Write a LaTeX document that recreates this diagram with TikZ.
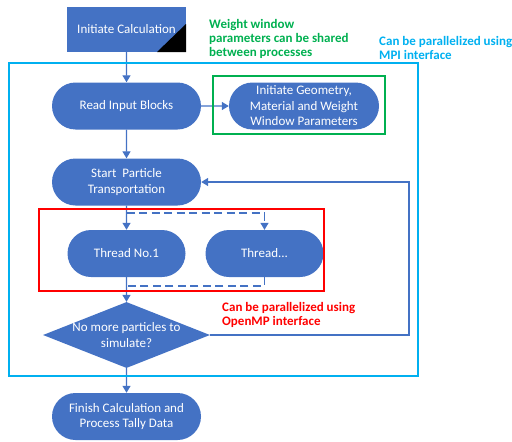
\documentclass[tikz,border=0pt]{standalone}
\usepackage{fontspec}
\setmainfont{Carlito}
\usetikzlibrary{shapes.misc,shapes.geometric,arrows.meta}
\definecolor{flowblue}{HTML}{4472C4}
\definecolor{mpicyan}{HTML}{00B0F0}
\definecolor{notegreen}{HTML}{00B050}
\definecolor{notered}{HTML}{FF0000}
\begin{document}
\begin{tikzpicture}[x=1pt,y=-1pt,
  proc/.style={rounded rectangle, fill=flowblue, text=white, draw=none,
    minimum width=149pt, minimum height=47pt, inner sep=0pt, align=center,
    font=\fontsize{13}{15.5}\selectfont},
  thread/.style={proc, minimum width=118pt},
  startbox/.style={rectangle, fill=flowblue, text=white, minimum width=119pt,
    minimum height=45pt, inner sep=0pt, font=\fontsize{13}{15.5}\selectfont},
  decision/.style={diamond, fill=flowblue, minimum width=167pt, minimum height=66pt, inner sep=0pt},
  flow/.style={draw=flowblue, line width=1.3pt, -{Triangle[length=7pt,width=8pt]}},
  plainflow/.style={draw=flowblue, line width=1.3pt},
  note/.style={anchor=west, inner sep=0pt, align=left, font=\fontsize{13}{14.3}\selectfont\bfseries}
]
\useasboundingbox (0,0) rectangle (512,442);

% process nodes
\node[startbox] (init) at (126.5,29.5) {Initiate Calculation};
\fill[black] (186,24) -- (186,52) -- (157,52) -- cycle;
\node[proc] (read) at (126.5,106) {Read Input Blocks};
\node[proc, minimum width=150pt] (geom) at (304,106) {Initiate Geometry,\\Material and Weight\\Window Parameters};
\node[proc] (start) at (126.5,182) {Start\ \ Particle\\Transportation};
\node[thread] (t1) at (126.5,253.5) {Thread No.1};
\node[thread] (t2) at (264.5,253.5) {Thread...};
\node[decision, label={[text=white, align=center, font=\fontsize{13}{15.5}\selectfont]center:No more particles to\\simulate?}] (dia) at (126.5,335) {};
\node[proc] (finish) at (126.5,416.5) {Finish Calculation and\\Process Tally Data};

% connectors
\draw[flow] (init) -- (read);
\draw[flow] (read) -- (geom);
\draw[flow] (read) -- (start);
\draw[flow] (start) -- (t1);
\draw[flow] (t1) -- (dia.north);
\draw[flow] (dia) -- (finish);
\coordinate (loopR) at (409,182);
\draw[flow] (dia.east) -| (loopR) -- (start.east);

% dashed fork and join to the further threads
\coordinate (forkT) at (126.5,213);
\coordinate (joinB) at (126.5,286);
\draw[flow, dashed, dash pattern=on 8pt off 4.5pt] (forkT) -| (t2.north);
\draw[plainflow, dash pattern=on 8pt off 4.5pt] (t2.south) |- (joinB);

% grouping frames
\draw[mpicyan, line width=2pt] (9,63) rectangle (418,376);
\draw[notegreen, line width=1.8pt] (213,76) rectangle (385,134);
\draw[notered, line width=1.6pt] (39,209) rectangle (324,291);

% annotations
\node[note, text=notegreen] (wwnote) at (209,39) {Weight window\\parameters can be shared\\between processes};
\node[note, text=mpicyan] (mpinote) at (379,48) {Can be parallelized using\\MPI interface};
\node[note, text=notered] (ompnote) at (222,315) {Can be parallelized using\\OpenMP interface};
\end{tikzpicture}
\end{document}
